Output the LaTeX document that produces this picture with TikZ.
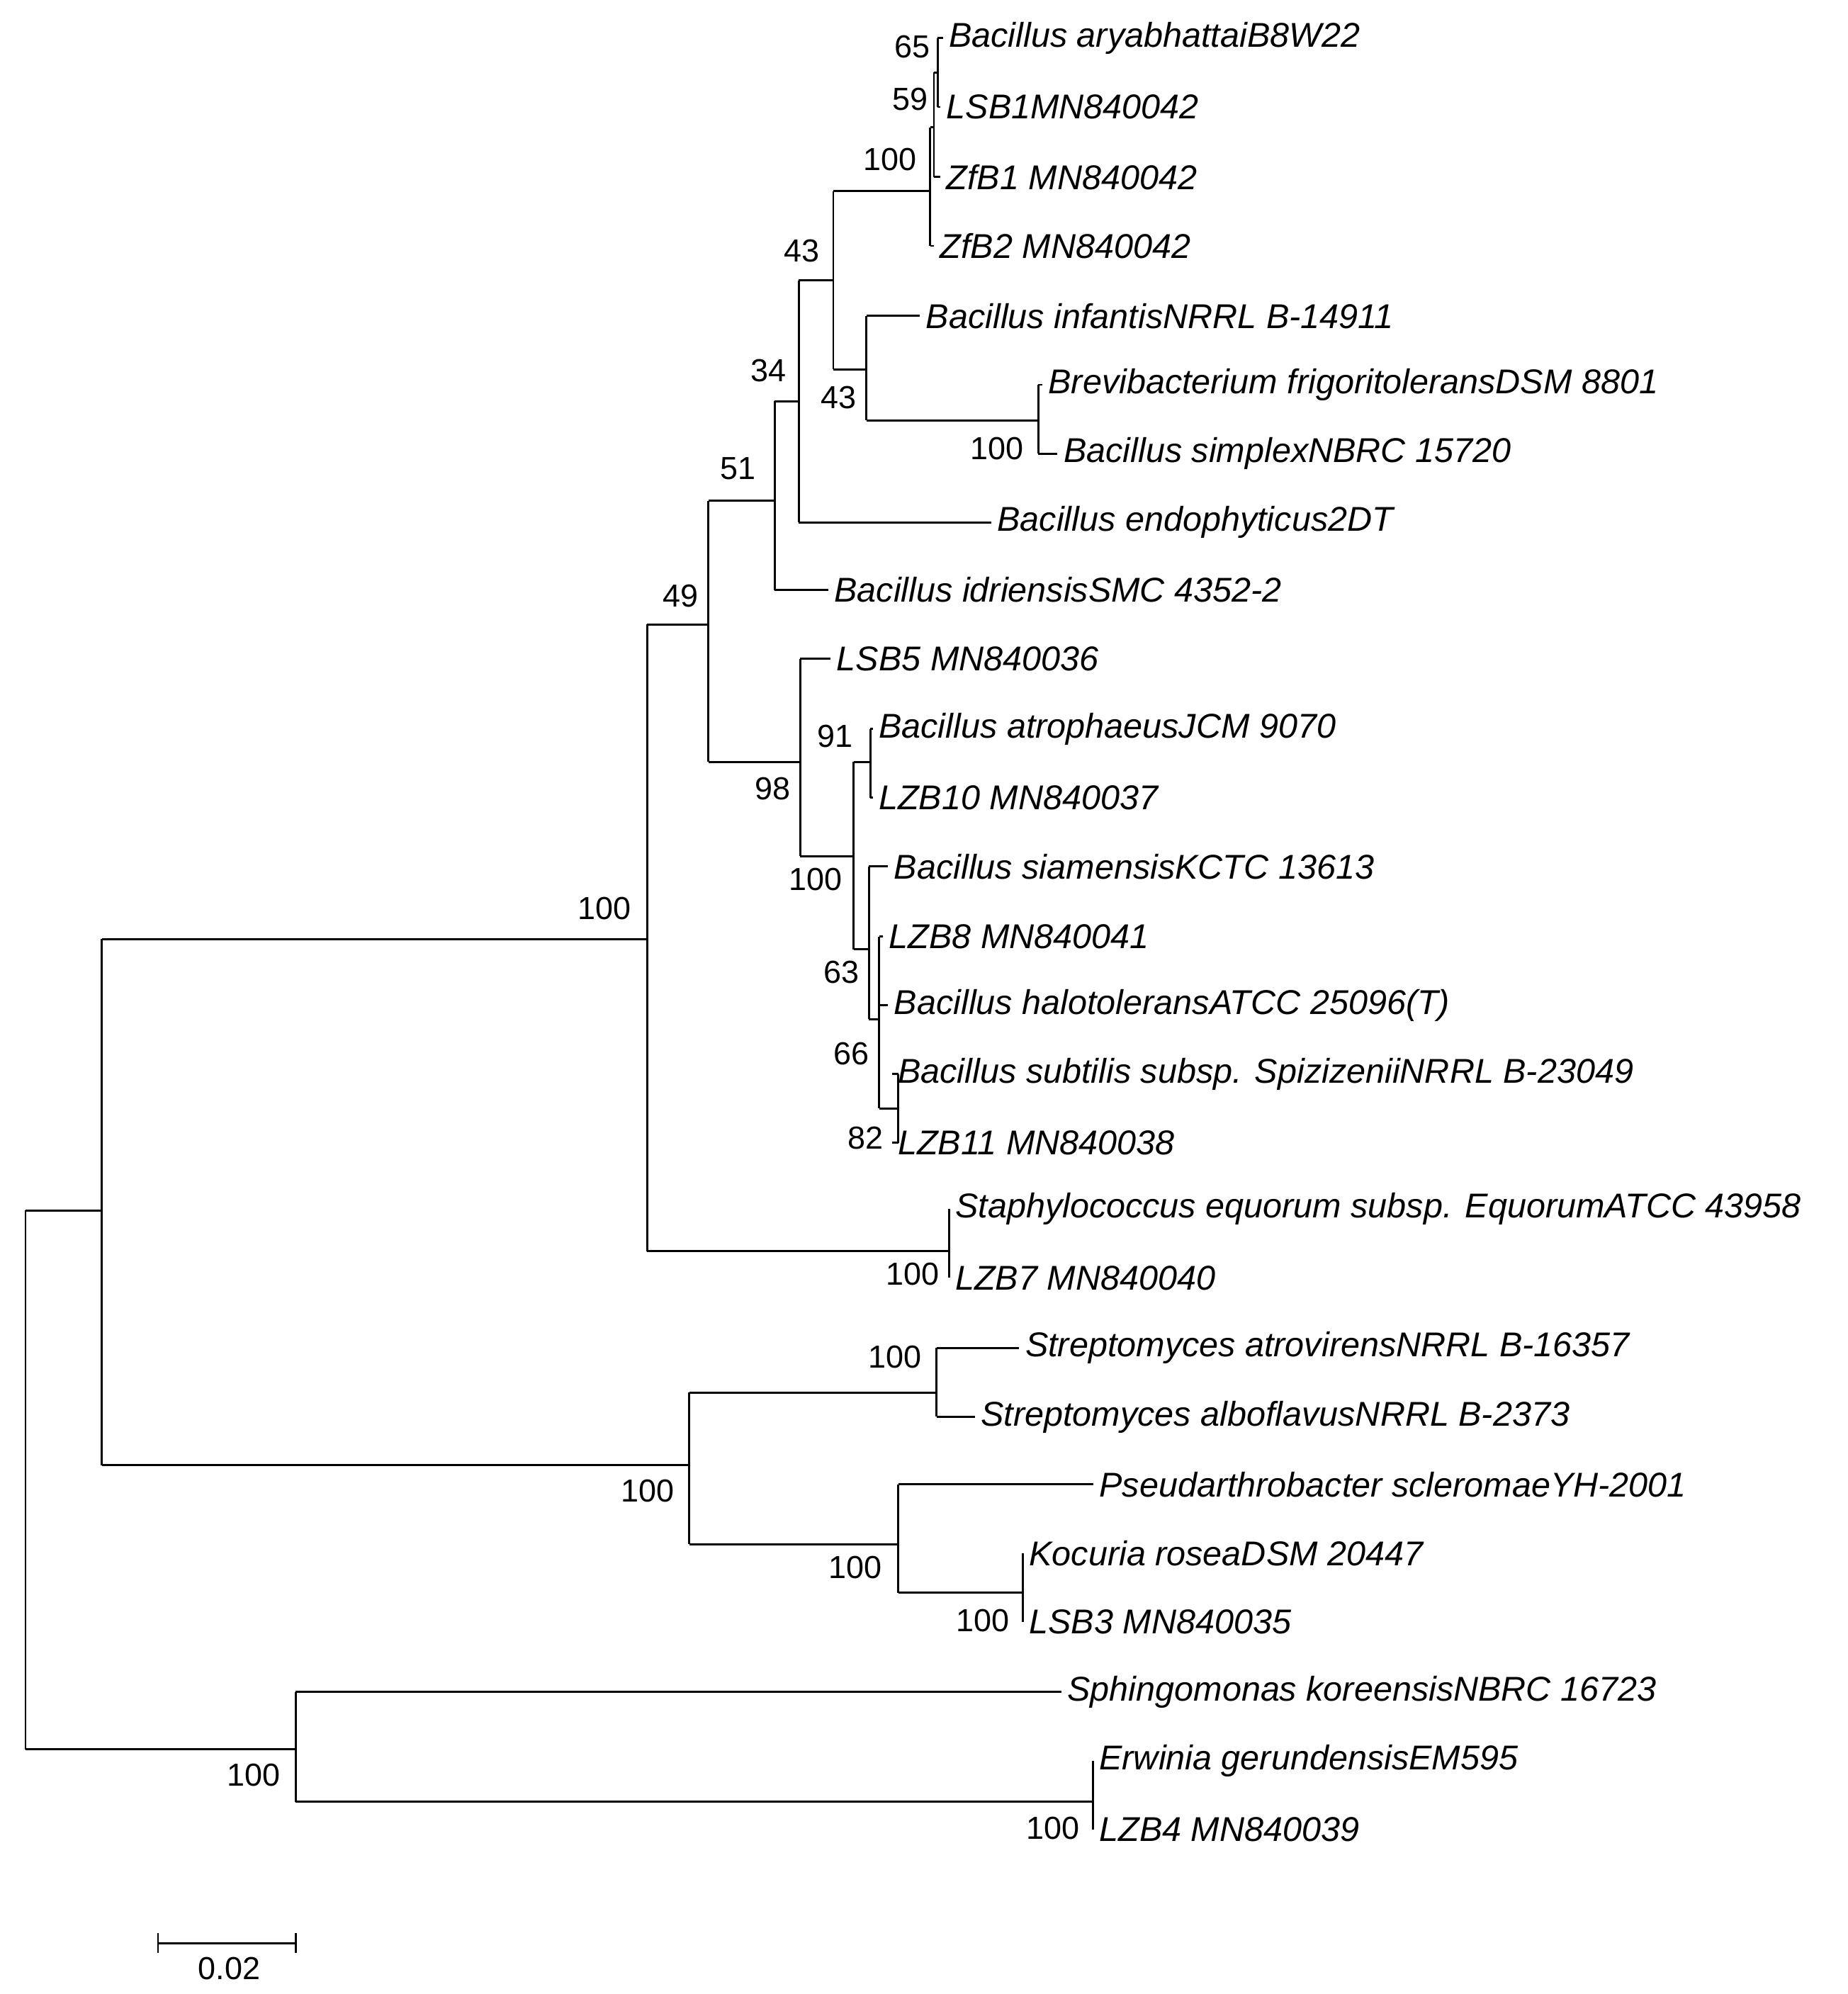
\documentclass[tikz,border=0pt]{standalone}
\usepackage{fontspec}
\setmainfont{Liberation Sans}
\begin{document}
\begin{tikzpicture}[x=1pt,y=-1pt,line width=1.6pt,
  lab/.style={anchor=west,font=\fontsize{27}{30}\selectfont\itshape,inner sep=4pt},
  bs/.style={font=\fontsize{25}{27}\selectfont,inner sep=2pt}]
\useasboundingbox (0,0) rectangle (1450,1565);
\newcommand{\lf}[4]{\coordinate (#1) at (#2,#3); \node[lab] (#1t) at (#1) {#4};}
\newcommand{\nd}[3]{\coordinate (#1) at (#2,#3);}
\newcommand{\vt}[3]{\draw (#1 |- #2) -- (#1 |- #3);}
\newcommand{\hz}[2]{\draw (#1 |- #2) -- (#2);}
% leaves
\lf{l1}{740}{30}{Bacillus aryabhattaiB8W22}
\lf{l2}{738}{84}{LSB1MN840042}
\lf{l3}{738}{139}{ZfB1 MN840042}
\lf{l4}{733}{193}{ZfB2 MN840042}
\lf{l5}{722}{248}{Bacillus infantisNRRL B-14911}
\lf{l6}{818}{302}{Brevibacterium frigoritoleransDSM 8801}
\lf{l7}{830}{356}{Bacillus simplexNBRC 15720}
\lf{l8}{778}{410}{Bacillus endophyticus2DT}
\lf{l9}{650}{463}{Bacillus idriensisSMC 4352-2}
\lf{l10}{652}{517}{LSB5 MN840036}
\lf{l11}{685}{572}{Bacillus atrophaeusJCM 9070}
\lf{l12}{685}{626}{LZB10 MN840037}
\lf{l13}{697}{680}{Bacillus siamensisKCTC 13613}
\lf{l14}{693}{735}{LZB8 MN840041}
\lf{l15}{697}{789}{Bacillus halotoleransATCC 25096(T)}
\lf{l16}{700}{843}{Bacillus subtilis subsp. SpizizeniiNRRL B-23049}
\lf{l17}{700}{897}{LZB11 MN840038}
\lf{l18}{745}{949}{Staphylococcus equorum subsp. EquorumATCC 43958}
\lf{l19}{745}{1003}{LZB7 MN840040}
\lf{l20}{800}{1058}{Streptomyces atrovirensNRRL B-16357}
\lf{l21}{765}{1112}{Streptomyces alboflavusNRRL B-2373}
\lf{l22}{858}{1165}{Pseudarthrobacter scleromaeYH-2001}
\lf{l23}{803}{1219}{Kocuria roseaDSM 20447}
\lf{l24}{803}{1273}{LSB3 MN840035}
\lf{l25}{833}{1328}{Sphingomonas koreensisNBRC 16723}
\lf{l26}{858}{1382}{Erwinia gerundensisEM595}
\lf{l27}{858}{1436}{LZB4 MN840039}
% internal nodes
\nd{root}{20}{1160}
\nd{a}{80}{950}
\nd{b}{508}{737}
\nd{c}{556}{490}
\nd{d}{608}{393}
\nd{e}{627}{315}
\nd{f}{654}{220}
\nd{g3}{730}{150}
\nd{g2}{733}{100}
\nd{g1}{736}{57}
\nd{h}{680}{290}
\nd{i}{815}{330}
\nd{j}{628}{598}
\nd{k}{683}{598}
\nd{m}{670}{672}
\nd{n}{682}{745}
\nd{o}{690}{800}
\nd{p}{705}{870}
\nd{s}{745}{982}
\nd{t}{541}{1150}
\nd{u}{735}{1093}
\nd{v}{705}{1212}
\nd{w}{803}{1250}
\nd{x}{232}{1373}
\nd{y}{858}{1414}
% tree
\vt{root}{a}{x}\hz{root}{a}\hz{root}{x}
\vt{a}{b}{t}\hz{a}{b}\hz{a}{t}
\vt{b}{c}{s}\hz{b}{c}\hz{b}{s}
\vt{c}{d}{j}\hz{c}{d}\hz{c}{j}
\vt{d}{e}{l9}\hz{d}{e}\hz{d}{l9}
\vt{e}{f}{l8}\hz{e}{f}\hz{e}{l8}
\vt{f}{g3}{h}\hz{f}{g3}\hz{f}{h}
\vt{g3}{g2}{l4}\hz{g3}{g2}\hz{g3}{l4}
\vt{g2}{g1}{l3}\hz{g2}{g1}\hz{g2}{l3}
\vt{g1}{l1}{l2}\hz{g1}{l1}\hz{g1}{l2}
\vt{h}{l5}{i}\hz{h}{l5}\hz{h}{i}
\vt{i}{l6}{l7}\hz{i}{l6}\hz{i}{l7}
\vt{j}{l10}{m}\hz{j}{l10}\hz{j}{m}
\vt{m}{k}{n}\hz{m}{k}\hz{m}{n}
\vt{k}{l11}{l12}\hz{k}{l11}\hz{k}{l12}
\vt{n}{l13}{o}\hz{n}{l13}\hz{n}{o}
\vt{o}{l14}{p}\hz{o}{l14}\hz{o}{l15}\hz{o}{p}
\vt{p}{l16}{l17}\hz{p}{l16}\hz{p}{l17}
\vt{s}{l18}{l19}\hz{s}{l18}\hz{s}{l19}
\vt{t}{u}{v}\hz{t}{u}\hz{t}{v}
\vt{u}{l20}{l21}\hz{u}{l20}\hz{u}{l21}
\vt{v}{l22}{w}\hz{v}{l22}\hz{v}{w}
\vt{w}{l23}{l24}\hz{w}{l23}\hz{w}{l24}
\vt{x}{l25}{y}\hz{x}{l25}\hz{x}{y}
\vt{y}{l26}{l27}\hz{y}{l26}\hz{y}{l27}
% support values
\node[bs,anchor=east] (s1) at (733,37) {65};
\node[bs,anchor=east] (s2) at (731,78) {59};
\node[bs,anchor=east] (s3) at (722,125) {100};
\node[bs,anchor=east] (s4) at (646,197) {43};
\node[bs,anchor=east] (s5) at (675,312) {43};
\node[bs,anchor=east] (s6) at (806,352) {100};
\node[bs,anchor=east] (s7) at (620,291) {34};
\node[bs,anchor=east] (s8) at (596,368) {51};
\node[bs,anchor=east] (s9) at (551,468) {49};
\node[bs,anchor=east] (s10) at (498,713) {100};
\node[bs,anchor=east] (s11) at (623,619) {98};
\node[bs,anchor=east] (s12) at (672,578) {91};
\node[bs,anchor=east] (s13) at (664,690) {100};
\node[bs,anchor=east] (s14) at (677,763) {63};
\node[bs,anchor=east] (s15) at (685,827) {66};
\node[bs,anchor=east] (s16) at (696,893) {82};
\node[bs,anchor=east] (s17) at (740,1000) {100};
\node[bs,anchor=east] (s18) at (726,1065) {100};
\node[bs,anchor=east] (s19) at (532,1170) {100};
\node[bs,anchor=east] (s20) at (695,1230) {100};
\node[bs,anchor=east] (s21) at (795,1272) {100};
\node[bs,anchor=east] (s22) at (223,1393) {100};
\node[bs,anchor=east] (s23) at (850,1435) {100};
% scale bar
\coordinate (sb1) at (124,1525); \coordinate (sb2) at (232,1525);
\draw (sb1) -- (sb2);
\draw ([yshift=-8]sb1) -- ([yshift=8]sb1);
\draw ([yshift=-8]sb2) -- ([yshift=8]sb2);
\node[bs] (sbl) at (180,1545) {0.02};
\end{tikzpicture}
\end{document}
